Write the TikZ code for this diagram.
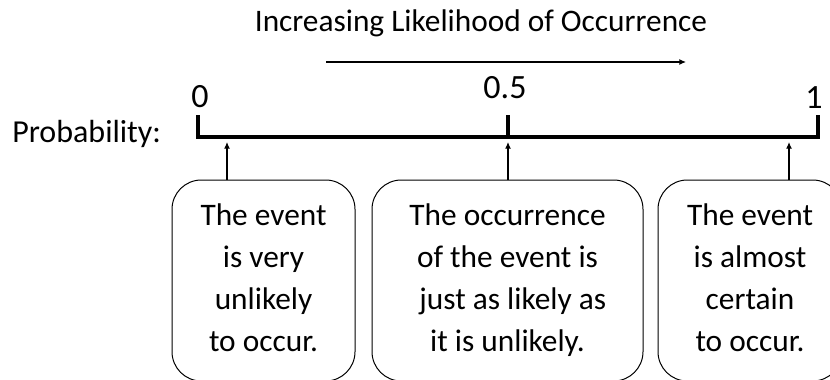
\documentclass[tikz,border=0pt]{standalone}
\usepackage{fontspec}
\setmainfont{Carlito}
\usetikzlibrary{arrows.meta}

\begin{document}
\begin{tikzpicture}[x=0.75pt,y=0.75pt,
	lbl/.style={font=\fontsize{23.5}{31.5}\selectfont, inner sep=0pt},
	numlbl/.style={font=\fontsize{25.5}{30}\selectfont, inner sep=0pt, anchor=base},
	evbox/.style={lbl, draw, line width=0.75pt, rounded corners=22pt, align=center, minimum height=150.75pt},
	ptr/.style={line width=0.9pt, -{Latex[length=5pt,width=4.5pt]}},
	axis/.style={line width=2.4pt}]
\useasboundingbox (0,0) rectangle (830,379);
%	title and trend arrow
\node[lbl, anchor=base] (title) at (481,347) {Increasing Likelihood of Occurrence};
\coordinate (trendA) at (326,317);
\coordinate (trendB) at (686,317);
\draw[ptr] (trendA) -- (trendB);
%	number line
\node[lbl, font=\fontsize{24}{30}\selectfont, anchor=base west] (prob) at (12,237) {Probability:};
\coordinate (p0) at (198,242);
\coordinate (pmid) at (508,242);
\coordinate (p1) at (818,242);
\coordinate (t0) at (198,264);
\coordinate (tmid) at (508,264);
\coordinate (t1) at (818,264);
\draw[axis] (t0) -- (p0) -- (p1) -- (t1)
	(pmid) -- (tmid);
\node[numlbl] (zero) at (200,272) {0};
\node[numlbl] (half) at (505,280) {0.5};
\node[numlbl] (one) at (814,271) {1};
%	boxes for events
\node[evbox, minimum width=137.25pt] (lowbox) at (263.5,98.5)
	{\strut The event\\\strut is very\\\strut unlikely\\\strut to occur.};
\node[evbox, minimum width=203.25pt] (midbox) at (507.5,98.5)
	{\strut The occurrence\\\strut of the event is\\\hspace*{8pt}\strut just as likely as\\\strut it is unlikely.};
\node[evbox, minimum width=138pt] (highbox) at (750,98.5)
	{\strut The event\\\strut is almost\\\strut certain\\\strut to occur.};
%	pointers up to the line
\coordinate (aLow) at (227,237);
\coordinate (aMid) at (508,237);
\coordinate (aHigh) at (789,237);
\draw[ptr] (lowbox.north -| aLow) -- (aLow);
\draw[ptr] (midbox.north -| aMid) -- (aMid);
\draw[ptr] (highbox.north -| aHigh) -- (aHigh);
\end{tikzpicture}
\end{document}
